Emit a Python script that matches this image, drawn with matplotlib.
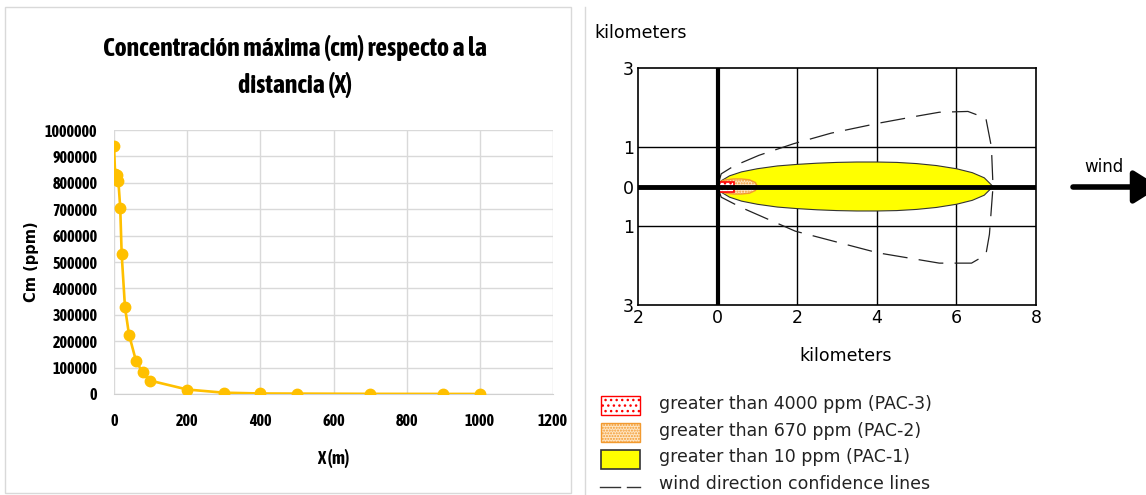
import numpy as np
import matplotlib
matplotlib.use("Agg")
import matplotlib.pyplot as plt
from matplotlib import font_manager
from matplotlib.patches import Rectangle, Polygon
from matplotlib.ticker import StrMethodFormatter

# --- left chart: maximum concentration vs distance ---
dist_m = [0, 3, 8, 12, 17, 21, 30, 41, 60, 78, 98, 200, 300, 400, 500, 700, 900, 1000]
cm_ppm = [940000, 835000, 828000, 806000, 706000, 529000, 329000, 225000,
          126000, 82000, 51000, 17000, 5000, 2000, 1500, 600, 300, 200]
x_ticks = [0, 200, 400, 600, 800, 1000, 1200]
y_ticks = [0, 100000, 200000, 300000, 400000, 500000, 600000, 700000,
           800000, 900000, 1000000]

# --- right chart: threat zone (km) ---
pac1_x = [0, 0.1, 0.3, 0.6, 1.0, 1.5, 2.0, 2.5, 3.0, 3.5, 4.0, 4.5, 5.0,
          5.5, 6.0, 6.4, 6.7, 6.92]
pac1_w = [0, 0.15, 0.27, 0.37, 0.45, 0.52, 0.56, 0.59, 0.61, 0.62, 0.62,
          0.61, 0.58, 0.53, 0.45, 0.35, 0.22, 0]
pac2_x = [0, 0.05, 0.2, 0.4, 0.6, 0.8, 0.95, 1.0]
pac2_w = [0, 0.12, 0.17, 0.19, 0.19, 0.17, 0.1, 0]
pac3_x = [0.03, 0.42]
pac3_y = [-0.15, 0.11]
conf_up_x = [0, 0.09, 0.41, 1.04, 1.9, 2.85, 4.03, 5.0, 5.57, 6.29, 6.74, 6.88, 6.92]
conf_up_y = [0, 0.32, 0.52, 0.79, 1.08, 1.35, 1.6, 1.78, 1.88, 1.9, 1.73, 1.0, 0]
conf_lo_x = [0, 0.09, 0.59, 1.95, 4.03, 5.57, 6.38, 6.74, 6.83, 6.92]
conf_lo_y = [0, -0.27, -0.53, -1.13, -1.68, -1.94, -1.94, -1.73, -1.21, 0]
zone_xticks = [-2, 0, 2, 4, 6, 8]
zone_yticks = [-3, -1, 0, 1, 3]
legend_labels = ["greater than 4000 ppm (PAC-3)",
                 "greater than 670 ppm (PAC-2)",
                 "greater than 10 ppm (PAC-1)",
                 "wind direction confidence lines"]

# pick a narrow sans (preferably one with a bold face), Lato otherwise
fonts = font_manager.fontManager.ttflist
narrow_fonts = [f for f in fonts
                if "narrow" in f.name.lower() or "condensed" in f.name.lower()]
bold_narrow = sorted({f.name for f in narrow_fonts
                      if isinstance(f.weight, int) and f.weight >= 600
                      or f.weight in ("bold", "semibold", "demibold")})
if bold_narrow:
    narrow = bold_narrow[0]
elif narrow_fonts:
    narrow = sorted({f.name for f in narrow_fonts})[0]
else:
    narrow = "Lato"

fig = plt.figure(figsize=(11.46, 4.95), dpi=100)

# overlay in pixel units for frames, legend and the wind arrow
ov = fig.add_axes([0, 0, 1, 1], zorder=-1)
ov.set_xlim(0, 1146)
ov.set_ylim(495, 0)
ov.axis("off")
ov.add_patch(Rectangle((5, 7), 566, 486, fill=False, ec="#d9d9d9", lw=1))
ov.plot([585, 585], [7, 495], color="#d9d9d9", lw=1)

ax = fig.add_axes([114 / 1146, 1 - 394 / 495, 439 / 1146, 264 / 495])
gold = "#FFC000"
ax.plot(dist_m, cm_ppm, color=gold, lw=1.9, marker="o", ms=7.5, zorder=3)
ax.set_xlim(0, 1200)
ax.set_ylim(0, 1000000)
ax.set_xticks(x_ticks)
ax.set_yticks(y_ticks)
ax.yaxis.set_major_formatter(StrMethodFormatter("{x:.0f}"))
ax.grid(True, color="#d9d9d9", lw=1)
for s in ax.spines.values():
    s.set_visible(False)
ax.spines["bottom"].set_visible(True)
ax.spines["bottom"].set_color("#d0d0d0")
ax.tick_params(length=0, labelsize=11.5)
ax.tick_params(axis="y", pad=12)
ax.tick_params(axis="x", pad=14)
for lbl in ax.get_xticklabels() + ax.get_yticklabels():
    lbl.set_family(narrow)
    lbl.set_weight("bold")
ax.set_xlabel("X (m)", family=narrow, weight="bold", fontsize=13, labelpad=14)
ax.set_ylabel("Cm (ppm)", family="DejaVu Sans", weight="bold", fontsize=10.5,
              labelpad=4)
fig.text(295 / 1146, 1 - 66.5 / 495,
         "Concentración máxima (cm) respecto a la\ndistancia (X)",
         ha="center", va="center", family=narrow, weight="bold", fontsize=18.5,
         linespacing=1.5)

# threat zone plot
az = fig.add_axes([638 / 1146, 1 - 305 / 495, 398 / 1146, 237 / 495])
az.set_xlim(-2, 8)
az.set_ylim(-3, 3)
px = np.array(pac1_x)
pw = np.array(pac1_w)
az.fill(np.r_[px, px[::-1]], np.r_[pw, -pw[::-1]], fc="#ffff00", ec="#333333",
        lw=0.8, zorder=2)
qx = np.array(pac2_x)
qw = np.array(pac2_w)
az.add_patch(Polygon(np.c_[np.r_[qx, qx[::-1]], np.r_[qw, -qw[::-1]]],
                     fc="#ffe6c4", ec="#f29a30", hatch="......", lw=1, zorder=3))
az.add_patch(Rectangle((pac3_x[0], pac3_y[0]), pac3_x[1] - pac3_x[0],
                       pac3_y[1] - pac3_y[0], fc="white", ec="red",
                       hatch="...", lw=1.2, zorder=4))
conf_x = conf_up_x + conf_lo_x[::-1]
conf_y = conf_up_y + conf_lo_y[::-1]
az.plot(conf_x, conf_y, color="#222222", lw=0.9, dashes=(20, 9), zorder=3)
for g in [0, 2, 4, 6]:
    az.axvline(g, color="black", lw=1, zorder=1)
for g in [-1, 1]:
    az.axhline(g, color="black", lw=1, zorder=1)
az.axvline(0, color="black", lw=3, zorder=5)
az.axhline(0, color="black", lw=3.5, zorder=5)
az.set_xticks(zone_xticks)
az.set_xticklabels([str(abs(t)) for t in zone_xticks])
az.set_yticks(zone_yticks)
az.set_yticklabels([str(abs(t)) for t in zone_yticks])
az.tick_params(length=0, labelsize=12.5, pad=3)
for s in az.spines.values():
    s.set_linewidth(1.2)
fig.text(594 / 1146, 1 - 33 / 495, "kilometers", ha="left", va="center",
         fontsize=12.5)
fig.text(846 / 1146, 1 - 356 / 495, "kilometers", ha="center", va="center",
         fontsize=12.5)
fig.text(1104 / 1146, 1 - 167 / 495, "wind", ha="center", va="center",
         fontsize=12)
ov.annotate("", xy=(1160, 187), xytext=(1073, 187), annotation_clip=False,
            arrowprops=dict(arrowstyle="-|>,head_length=0.8,head_width=0.5",
                            lw=4, color="black", shrinkA=0, shrinkB=0,
                            mutation_scale=20))

# legend
ov.add_patch(Rectangle((601, 396), 39, 19, fc="white", ec="red", hatch="...", lw=1))
ov.add_patch(Rectangle((601, 423), 39, 19, fc="#ffe6c4", ec="#f29a30",
                       hatch="......", lw=1))
ov.add_patch(Rectangle((601, 450), 39, 19, fc="#ffff00", ec="#333333", lw=1.2))
ov.plot([600, 620], [487, 487], color="#333333", lw=1)
ov.plot([627, 640], [487, 487], color="#333333", lw=1)
for i, text in enumerate(legend_labels):
    ov.text(659, 404 + 26.7 * i, text, ha="left", va="center", fontsize=12.5,
            color="#222222")

fig.savefig("out.png", dpi=100)
